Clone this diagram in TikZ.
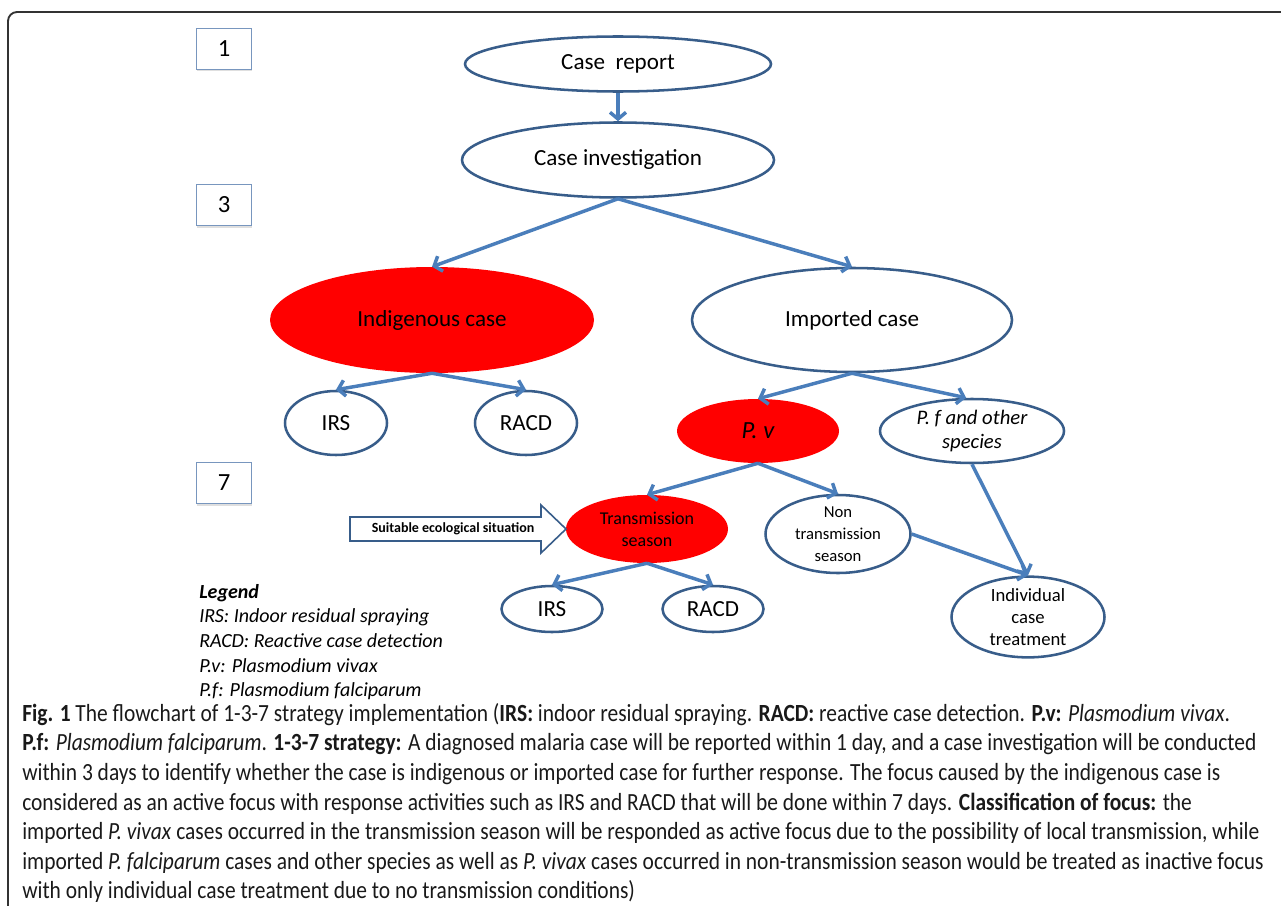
\documentclass[tikz,border=0pt]{standalone}
\usepackage{fontspec}
\setmainfont{Carlito}
\newfontfamily\capfont[FakeStretch=0.87]{Carlito}
\usetikzlibrary{shapes.geometric,arrows.meta,shadows}
\definecolor{ovalblue}{RGB}{56,93,138}
\definecolor{linkblue}{RGB}{74,126,187}
\definecolor{boxblue}{RGB}{120,150,190}
\newdimen\pxl \pxl=0.75pt

\begin{document}
\begin{tikzpicture}[x=0.75pt,y=-0.75pt,
  oval/.style={ellipse,draw=ovalblue,line width=1.9pt,inner sep=0pt,align=center},
  redoval/.style={ellipse,fill=red,inner sep=0pt,align=center},
  daybox/.style={draw=boxblue,line width=1pt,fill=white,minimum width=55\pxl,minimum height=41\pxl,
    font=\fontsize{18.5}{20}\selectfont,drop shadow={shadow xshift=0pt,shadow yshift=-1.5pt,opacity=.25}},
  link/.style={draw=linkblue,line width=2.6pt,-{Straight Barb[length=5pt,width=12pt]}},
  big/.style={font=\fontsize{17.3}{20}\selectfont},
  mid/.style={font=\fontsize{13.5}{16.5}\selectfont},
  small/.style={font=\fontsize{12.5}{16.5}\selectfont}]

\useasboundingbox (0,0) rectangle (1281,906);
\draw[line width=1.4pt,black!80,rounded corners=9\pxl] (8,906) -- (8,12) -- (1281,12);

\node[daybox] (d1) at (224,49) {1};
\node[daybox] (d3) at (224,205) {3};
\node[daybox] (d7) at (224,483) {7};

\node[oval,big,minimum width=306\pxl,minimum height=55\pxl] (rep) at (618,64) {Case~~report};
\node[oval,big,minimum width=312\pxl,minimum height=75\pxl] (inv) at (618,160) {Case investigation};
\node[redoval,big,minimum width=324\pxl,minimum height=106\pxl] (ind) at (432,320) {Indigenous case};
\node[oval,big,minimum width=320\pxl,minimum height=104\pxl] (imp) at (852,320) {Imported case};
\node[oval,big,minimum width=102\pxl,minimum height=64\pxl] (irsa) at (336,423) {IRS};
\node[oval,big,minimum width=102\pxl,minimum height=64\pxl] (racda) at (526,423) {RACD};
\node[redoval,font=\fontsize{18.5}{20}\selectfont\itshape,minimum width=162\pxl,minimum height=64\pxl] (pv) at (758,431) {P. v};
\node[oval,font=\fontsize{15.5}{17.5}\selectfont\itshape,minimum width=184\pxl,minimum height=64\pxl] (pf) at (972,431) {P. f and other\\species};
\node[redoval,mid,minimum width=162\pxl,minimum height=68\pxl] (tra) at (647,529) {Transmission\\season};
\node[oval,small,minimum width=145\pxl,minimum height=78\pxl] (non) at (838,534) {Non\\transmission\\season};
\node[oval,big,minimum width=101\pxl,minimum height=46\pxl] (irsb) at (552,609) {IRS};
\node[oval,big,minimum width=101\pxl,minimum height=46\pxl] (racdb) at (713,609) {RACD};
\node[oval,font=\fontsize{14}{16.5}\selectfont,minimum width=153\pxl,minimum height=72\pxl] (ind2) at (1028,617) {Individual\\case\\treatment};

\draw[ovalblue,line width=1.2pt,fill=white] (350,517) -- (541,517) -- (541,505) -- (566,529) -- (541,553) -- (541,541) -- (350,541) -- cycle;
\node[font=\fontsize{10.5}{12}\selectfont\bfseries] (eco) at (453,529) {Suitable ecological situation};

\node[anchor=north west,align=left,inner sep=0pt,font=\fontsize{15}{18.5}\selectfont\itshape] (leg) at (199,584)
  {\bfseries Legend\\IRS: Indoor residual spraying\\RACD: Reactive case detection\\P.v: Plasmodium vivax\\P.f: Plasmodium falciparum};

\node[anchor=north west,align=left,inner sep=0pt,text=black!90,font=\capfont\fontsize{18.5}{22.2}\selectfont] (cap) at (22,703)
  {\textbf{Fig. 1} The flowchart of 1-3-7 strategy implementation (\textbf{IRS:} indoor residual spraying. \textbf{RACD:} reactive case detection. \textbf{P.v:} \textit{Plasmodium vivax}.\\
   \textbf{P.f:} \textit{Plasmodium falciparum}. \textbf{1-3-7 strategy:} A diagnosed malaria case will be reported within 1 day, and a case investigation will be conducted\\
   within 3 days to identify whether the case is indigenous or imported case for further response. The focus caused by the indigenous case is\\
   considered as an active focus with response activities such as IRS and RACD that will be done within 7 days. \textbf{Classification of focus:} the\\
   imported \textit{P. vivax} cases occurred in the transmission season will be responded as active focus due to the possibility of local transmission, while\\
   imported \textit{P. falciparum} cases and other species as well as \textit{P. vivax} cases occurred in non-transmission season would be treated as inactive focus\\
   with only individual case treatment due to no transmission conditions)};

\draw[link] (rep) -- (inv);
\draw[link] (inv.south) -- (ind.north);
\draw[link] (inv.south) -- (imp.north);
\draw[link] (ind.south) -- (irsa.north);
\draw[link] (ind.south) -- (racda.north);
\draw[link] (imp.south) -- (pv.north);
\draw[link] (imp.south) -- (pf.100);
\draw[link] (pv.south) -- (tra.north);
\draw[link] (pv.south) -- (non.north);
\draw[link] (tra.south) -- (irsb.north);
\draw[link] (tra.south) -- (racdb.north);
\draw[link] (non.east) -- (ind2.north);
\draw[link] (pf.south) -- (ind2.north);

\end{tikzpicture}
\end{document}
